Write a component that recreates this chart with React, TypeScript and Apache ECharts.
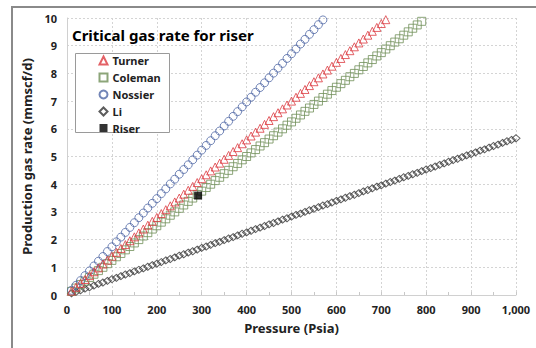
import React, { useEffect, useRef } from "react";
import * as echarts from "echarts";

const pressure = [
  10, 20, 30, 40, 50, 60, 70, 80, 90, 100,
  110, 120, 130, 140, 150, 160, 170, 180, 190, 200,
  210, 220, 230, 240, 250, 260, 270, 280, 290, 300,
  310, 320, 330, 340, 350, 360, 370, 380, 390, 400,
  410, 420, 430, 440, 450, 460, 470, 480, 490, 500,
  510, 520, 530, 540, 550, 560, 570, 580, 590, 600,
  610, 620, 630, 640, 650, 660, 670, 680, 690, 700,
  710, 720, 730, 740, 750, 760, 770, 780, 790, 800,
  810, 820, 830, 840, 850, 860, 870, 880, 890, 900,
  910, 920, 930, 940, 950, 960, 970, 980, 990, 1000,
];

const turner = [
  0.14, 0.28, 0.42, 0.56, 0.70, 0.84, 0.98, 1.12, 1.26, 1.40,
  1.54, 1.68, 1.82, 1.96, 2.10, 2.24, 2.38, 2.52, 2.66, 2.80,
  2.94, 3.08, 3.22, 3.36, 3.50, 3.64, 3.78, 3.92, 4.06, 4.20,
  4.34, 4.48, 4.62, 4.76, 4.90, 5.04, 5.18, 5.32, 5.46, 5.60,
  5.74, 5.88, 6.02, 6.16, 6.30, 6.44, 6.58, 6.72, 6.86, 7.00,
  7.14, 7.28, 7.42, 7.56, 7.70, 7.84, 7.98, 8.12, 8.26, 8.40,
  8.54, 8.68, 8.82, 8.96, 9.10, 9.24, 9.38, 9.52, 9.66, 9.80,
  9.94,
];

const coleman = [
  0.13, 0.25, 0.38, 0.50, 0.63, 0.75, 0.88, 1.00, 1.13, 1.25,
  1.38, 1.50, 1.63, 1.75, 1.88, 2.00, 2.13, 2.25, 2.38, 2.50,
  2.63, 2.75, 2.88, 3.00, 3.13, 3.25, 3.38, 3.50, 3.63, 3.75,
  3.88, 4.00, 4.13, 4.25, 4.38, 4.50, 4.63, 4.75, 4.88, 5.00,
  5.13, 5.25, 5.38, 5.50, 5.63, 5.75, 5.88, 6.00, 6.13, 6.25,
  6.38, 6.50, 6.63, 6.75, 6.88, 7.00, 7.13, 7.25, 7.38, 7.50,
  7.63, 7.75, 7.88, 8.00, 8.13, 8.25, 8.38, 8.50, 8.63, 8.75,
  8.88, 9.00, 9.13, 9.25, 9.38, 9.50, 9.63, 9.75, 9.88,
];

const nossier = [
  0.17, 0.35, 0.52, 0.70, 0.87, 1.05, 1.22, 1.39, 1.57, 1.74,
  1.92, 2.09, 2.26, 2.44, 2.61, 2.79, 2.96, 3.14, 3.31, 3.48,
  3.66, 3.83, 4.01, 4.18, 4.36, 4.53, 4.70, 4.88, 5.05, 5.23,
  5.40, 5.57, 5.75, 5.92, 6.10, 6.27, 6.45, 6.62, 6.79, 6.97,
  7.14, 7.32, 7.49, 7.66, 7.84, 8.01, 8.19, 8.36, 8.54, 8.71,
  8.88, 9.06, 9.23, 9.41, 9.58, 9.76, 9.93,
];

const li = [
  0.06, 0.11, 0.17, 0.23, 0.28, 0.34, 0.40, 0.45, 0.51, 0.57,
  0.62, 0.68, 0.74, 0.79, 0.85, 0.91, 0.96, 1.02, 1.08, 1.13,
  1.19, 1.25, 1.30, 1.36, 1.42, 1.47, 1.53, 1.58, 1.64, 1.70,
  1.75, 1.81, 1.87, 1.92, 1.98, 2.04, 2.09, 2.15, 2.21, 2.26,
  2.32, 2.38, 2.43, 2.49, 2.55, 2.60, 2.66, 2.72, 2.77, 2.83,
  2.89, 2.94, 3.00, 3.06, 3.11, 3.17, 3.23, 3.28, 3.34, 3.40,
  3.45, 3.51, 3.57, 3.62, 3.68, 3.74, 3.79, 3.85, 3.91, 3.96,
  4.02, 4.08, 4.13, 4.19, 4.25, 4.30, 4.36, 4.41, 4.47, 4.53,
  4.58, 4.64, 4.70, 4.75, 4.81, 4.87, 4.92, 4.98, 5.04, 5.09,
  5.15, 5.21, 5.26, 5.32, 5.38, 5.43, 5.49, 5.55, 5.60, 5.66,
];

const riserPressure = [292];
const riserRate = [3.59];

const FONT = "'Noto Sans', sans-serif";

function pair(xs: number[], ys: number[]) {
  return ys.map((y, i) => [xs[i], y]);
}

export default function App() {
  const ref = useRef<HTMLDivElement>(null);
  useEffect(() => {
    if (!ref.current) return;
    const chart = echarts.init(ref.current, null, { renderer: "svg" });
    const openStyle = (c: string) => ({ color: "none", borderColor: c, borderWidth: 1 });
    chart.setOption({
      animation: false,
      backgroundColor: "#ffffff",
      textStyle: { fontFamily: FONT },
      title: {
        text: "Critical gas rate for riser",
        left: 72,
        top: 27,
        padding: 0,
        textStyle: { fontFamily: FONT, fontWeight: "bold", fontSize: 15, color: "#000" },
      },
      graphic: [
        {
          type: "line",
          shape: { x1: 12, y1: 7, x2: 536, y2: 7 },
          style: { stroke: "#8a8a8a", lineWidth: 2 },
          z: 10,
        },
        {
          type: "line",
          shape: { x1: 12, y1: 6, x2: 12, y2: 348 },
          style: { stroke: "#8a8a8a", lineWidth: 2 },
          z: 10,
        },
        {
          type: "rect",
          shape: { x: 75.5, y: 53.5, width: 94, height: 79 },
          style: { fill: "#ffffff", stroke: "#9a9a9a", lineWidth: 1 },
          z: 1,
        },
      ],
      legend: {
        orient: "vertical",
        left: 97,
        top: 54,
        padding: 0,
        itemGap: 4,
        itemWidth: 8,
        itemHeight: 8,
        z: 5,
        textStyle: { fontFamily: FONT, fontWeight: "bold", fontSize: 11, lineHeight: 12, color: "#222" },
        data: ["Turner", "Coleman", "Nossier", "Li", "Riser"],
      },
      grid: { left: 67, right: 20, top: 18, bottom: 53 },
      xAxis: {
        type: "value",
        min: 0,
        max: 1000,
        interval: 100,
        name: "Pressure (Psia)",
        nameLocation: "middle",
        nameGap: 26,
        nameTextStyle: { fontFamily: FONT, fontWeight: "bold", fontSize: 13, color: "#222" },
        axisLine: { show: true, lineStyle: { color: "#d0d0d0", width: 1 } },
        axisTick: { show: true, inside: true, length: 3, lineStyle: { color: "#c8c8c8" } },
        minorTick: { show: true, splitNumber: 2, length: 3, lineStyle: { color: "#c8c8c8" } },
        axisLabel: { fontFamily: FONT, fontWeight: "bold", fontSize: 11, color: "#222", margin: 9 },
        splitLine: { show: true, lineStyle: { color: "#d4d4d4", type: [2, 2], width: 1 } },
      },
      yAxis: {
        type: "value",
        min: 0,
        max: 10,
        interval: 1,
        name: "Production gas rate (mmscf/d)",
        nameLocation: "middle",
        nameGap: 22,
        nameTextStyle: { fontFamily: FONT, fontWeight: "bold", fontSize: 13, color: "#222" },
        axisLine: { show: true, lineStyle: { color: "#d0d0d0", width: 1 } },
        axisTick: { show: false },
        axisLabel: { fontFamily: FONT, fontWeight: "bold", fontSize: 11, color: "#222", margin: 10 },
        splitLine: { show: true, lineStyle: { color: "#d4d4d4", type: [2, 2], width: 1 } },
      },
      series: [
        {
          name: "Li",
          type: "scatter",
          symbol: "diamond",
          symbolSize: [8, 7],
          itemStyle: openStyle("#333333"),
          data: pair(pressure, li),
          z: 2,
        },
        {
          name: "Coleman",
          type: "scatter",
          symbol: "rect",
          symbolSize: 8,
          itemStyle: openStyle("#6f8f57"),
          data: pair(pressure, coleman),
          z: 3,
        },
        {
          name: "Turner",
          type: "scatter",
          symbol: "triangle",
          symbolSize: 8,
          itemStyle: openStyle("#dc3a40"),
          data: pair(pressure, turner),
          z: 4,
        },
        {
          name: "Nossier",
          type: "scatter",
          symbol: "circle",
          symbolSize: 8,
          itemStyle: openStyle("#5068a5"),
          data: pair(pressure, nossier),
          z: 3,
        },
        {
          name: "Riser",
          type: "scatter",
          symbol: "rect",
          symbolSize: 8,
          itemStyle: { color: "#000000" },
          data: pair(riserPressure, riserRate),
          z: 6,
        },
      ],
    });
    return () => chart.dispose();
  }, []);
  return (
    <div
      ref={ref}
      style={{ position: "fixed", left: 0, top: 0, width: 536, height: 348 }}
    />
  );
}
